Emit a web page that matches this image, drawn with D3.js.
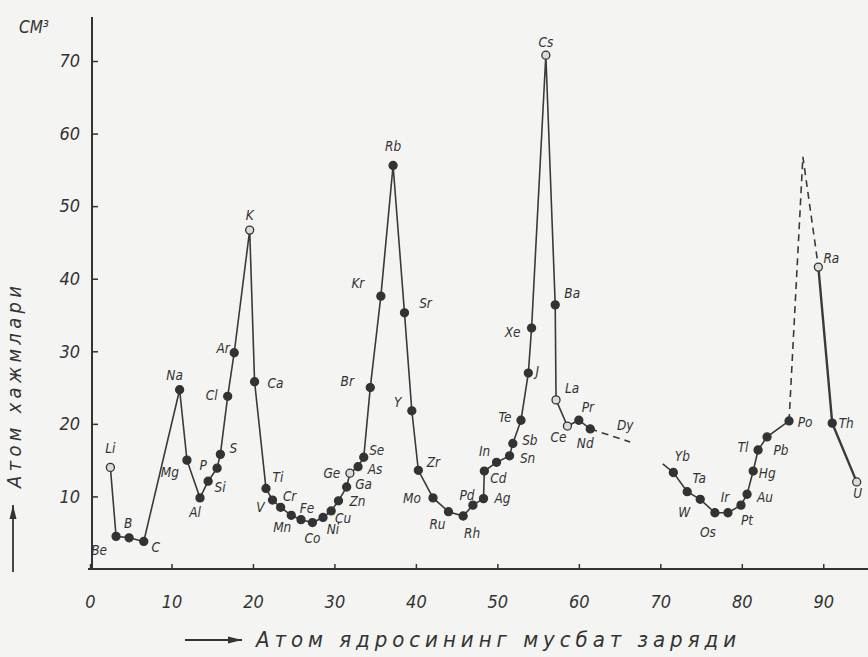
<!DOCTYPE html>
<html>
<head>
<meta charset="utf-8">
<script src="https://cdn.jsdelivr.net/npm/d3@7"></script>
<style>
  html, body { margin: 0; padding: 0; background: #f4f4f2; }
  svg { display: block; }
  text { font-family: "DejaVu Sans Condensed", "Liberation Sans Narrow", sans-serif; font-style: italic; fill: #333; }
</style>
</head>
<body>
<script>
// first solid run: Li .. Nd
const run1Symbols = ["Li","Be","B","C","Na","Mg","Al","Si","P","S","Cl","Ar","K","Ca","Ti","V","Cr","Mn","Fe","Co","Ni","Cu","Zn","Ga","Ge","As","Se","Br","Kr","Rb","Sr","Y","Zr","Mo","Ru","Rh","Pd","Ag","Cd","In","Sn","Sb","Te","J","Xe","Cs","Ba","La","Ce","Pr","Nd"];
const run1Charge  = [2.5,3.2,4.8,6.6,11.0,11.9,13.5,14.5,15.6,16.0,16.9,17.7,19.6,20.2,21.6,22.4,23.4,24.7,25.9,27.3,28.6,29.6,30.5,31.5,31.9,32.9,33.6,34.4,35.7,37.2,38.6,39.5,40.3,42.1,44.0,45.8,47.0,48.3,48.4,49.9,51.5,51.9,52.9,53.8,54.2,55.95,57.1,57.2,58.6,60.0,61.4];
const run1Volume  = [14.0,4.5,4.3,3.8,24.7,15.0,9.8,12.1,13.9,15.8,23.8,29.8,46.7,25.8,11.1,9.5,8.5,7.4,6.8,6.4,7.1,8.0,9.4,11.3,13.2,14.1,15.4,25.0,37.6,55.6,35.3,21.8,13.6,9.8,7.9,7.3,8.8,9.7,13.5,14.7,15.6,17.3,20.5,27.0,33.2,70.8,36.4,23.3,19.7,20.5,19.3];

// second solid run: (unmarked start) Yb .. Po
const run2Symbols = ["","Yb","Ta","W","Os","Ir","Pt","Au","Hg","Tl","Pb","Po"];
const run2Charge  = [70.3,71.6,73.3,74.9,76.7,78.3,79.9,80.65,81.4,82.0,83.1,85.8];
const run2Volume  = [14.5,13.3,10.65,9.6,7.75,7.75,8.8,10.3,13.5,16.4,18.2,20.4];

// third solid run: Ra .. U
const run3Symbols = ["Ra","Th","U"];
const run3Charge  = [89.4,91.1,94.1];
const run3Volume  = [41.6,20.1,12.0];

// dashed (estimated) parts
const dash1Symbols = ["Nd","Dy"];
const dash1Charge  = [61.4,66.3];
const dash1Volume  = [19.3,17.5];
const dash2Symbols = ["Po","","Ra"];
const dash2Charge  = [85.8,87.5,89.4];
const dash2Volume  = [20.4,56.8,41.6];

const openMarkers = ["Li","K","Ge","Cs","La","Ce","Ra","U"];
const xTicks = [0,10,20,30,40,50,60,70,80,90];
const yTicks = [10,20,30,40,50,60,70];

const labelOffset = {
  Li:[0,-19], Be:[-17,14], B:[-1,-15], C:[12,6], Na:[-5,-15], Mg:[-17,12], Al:[-5,14],
  Si:[12,6], P:[-14,-3], S:[13,-6], Cl:[-16,-1], Ar:[-11,-5], K:[0,-15], Ca:[21,1],
  Ti:[12,-11], V:[-12,7], Cr:[9,-11], Mn:[-9,12], Fe:[6,-12], Co:[0,15], Ni:[10,12],
  Cu:[12,7], Zn:[19,0], Ga:[17,-3], Ge:[-18,0], As:[17,2], Se:[13,-7], Br:[-23,-7],
  Kr:[-23,-13], Rb:[0,-20], Sr:[21,-10], Y:[-14,-9], Zr:[15,-8], Mo:[-21,0], Ru:[-11,12],
  Rh:[9,17], Pd:[-6,-10], Ag:[19,-1], Cd:[14,7], In:[-12,-11], Sn:[18,2], Sb:[17,-3],
  Te:[-16,-3], J:[9,-2], Xe:[-19,4], Cs:[0,-13], Ba:[17,-12], La:[16,-12], Ce:[-9,11],
  Pr:[9,-13], Nd:[-5,14], Dy:[-5,-17], Yb:[9,-16], Ta:[12,-14], W:[-16,13], Os:[-7,19],
  Ir:[-3,-16], Pt:[6,15], Au:[18,3], Hg:[14,2], Tl:[-15,-3], Pb:[14,13], Po:[16,1],
  Ra:[13,-9], Th:[14,0], U:[1,11]
};

const W = 868, H = 657;
const x = d3.scaleLinear().domain([0, 95]).range([90, 864]);
const y = d3.scaleLinear().domain([0, 70]).range([569, 61]);

const svg = d3.select("body").append("svg")
    .attr("width", W)
    .attr("height", H);

const toPoints = (s, c, v) => s.map((d, i) => ({ sym: d, z: c[i], v: v[i] }));
const run1 = toPoints(run1Symbols, run1Charge, run1Volume);
const run2 = toPoints(run2Symbols, run2Charge, run2Volume);
const run3 = toPoints(run3Symbols, run3Charge, run3Volume);
const dash1 = toPoints(dash1Symbols, dash1Charge, dash1Volume);
const dash2 = toPoints(dash2Symbols, dash2Charge, dash2Volume);

// axes
const xAxis = svg.append("g")
    .attr("transform", `translate(0,${y(0)})`)
    .call(d3.axisBottom(x).tickValues(xTicks).tickSize(-5).tickPadding(26).tickSizeOuter(0));
xAxis.select(".domain").attr("d", `M88,0H${W}`);
xAxis.selectAll("text").attr("font-size", 18).attr("font-family", null);

const yAxis = svg.append("g")
    .attr("transform", `translate(${x(0) + 2},0)`)
    .call(d3.axisLeft(y).tickValues(yTicks).tickSize(-6).tickPadding(12).tickSizeOuter(0));
yAxis.select(".domain").attr("d", `M0,${y(0) + 1}V17`);
yAxis.selectAll("text").attr("font-size", 18).attr("font-family", null);
svg.selectAll(".domain").attr("stroke", "#333").attr("stroke-width", 2);
svg.selectAll(".tick line").attr("stroke", "#333").attr("stroke-width", 1.5);

svg.append("text")
    .attr("x", 34).attr("y", 33)
    .attr("text-anchor", "middle")
    .attr("font-size", 17)
    .text("СМ³");

// lines
const line = d3.line().x(d => x(d.z)).y(d => y(d.v));
[run1, run2].forEach(run => {
  svg.append("path").datum(run)
      .attr("d", line)
      .attr("fill", "none")
      .attr("stroke", "#3a3a3a")
      .attr("stroke-width", 1.6);
});
svg.append("path").datum(run3)
    .attr("d", line)
    .attr("fill", "none")
    .attr("stroke", "#3a3a3a")
    .attr("stroke-width", 2.4);
[dash1, dash2].forEach(run => {
  svg.append("path").datum(run)
      .attr("d", line)
      .attr("fill", "none")
      .attr("stroke", "#3a3a3a")
      .attr("stroke-width", 1.6)
      .attr("stroke-dasharray", "7,5");
});

// markers
const marked = run1.concat(run2, run3).filter(d => d.sym !== "");
svg.selectAll(".dot")
    .data(marked)
    .enter()
    .append("circle")
    .attr("class", "dot")
    .attr("cx", d => x(d.z))
    .attr("cy", d => y(d.v))
    .attr("r", 4)
    .attr("fill", d => openMarkers.includes(d.sym) ? "#dcdcdc" : "#333")
    .attr("stroke", "#333")
    .attr("stroke-width", 1.3);

// labels
const labelled = marked.concat(dash1.filter(d => d.sym === "Dy"));
svg.selectAll(".lbl")
    .data(labelled)
    .enter()
    .append("text")
    .attr("class", "lbl")
    .attr("x", d => x(d.z) + (labelOffset[d.sym] || [0, -14])[0])
    .attr("y", d => y(d.v) + (labelOffset[d.sym] || [0, -14])[1])
    .attr("text-anchor", "middle")
    .attr("dominant-baseline", "central")
    .attr("font-size", 13.5)
    .text(d => d.sym);

// axis titles with arrows
const arrow = (x1, y1, x2, y2) => {
  svg.append("line")
      .attr("x1", x1).attr("y1", y1).attr("x2", x2).attr("y2", y2)
      .attr("stroke", "#333").attr("stroke-width", 1.8);
  const a = Math.atan2(y2 - y1, x2 - x1);
  const p = [[x2, y2],
             [x2 - 14 * Math.cos(a) + 3.5 * Math.sin(a), y2 - 14 * Math.sin(a) - 3.5 * Math.cos(a)],
             [x2 - 14 * Math.cos(a) - 3.5 * Math.sin(a), y2 - 14 * Math.sin(a) + 3.5 * Math.cos(a)]];
  svg.append("path").attr("d", d3.line()(p) + "Z").attr("fill", "#333");
};
arrow(185, 640, 242, 640);
svg.append("text")
    .attr("x", 256).attr("y", 647)
    .attr("font-size", 22)
    .attr("textLength", 480)
    .attr("lengthAdjust", "spacing")
    .text("Атом ядросининг мусбат заряди");

arrow(13, 572, 13, 505);
svg.append("text")
    .attr("transform", "translate(21,488) rotate(-90)")
    .attr("font-size", 20)
    .attr("textLength", 202)
    .attr("lengthAdjust", "spacing")
    .text("Атом хажмлари");
</script>
</body>
</html>
